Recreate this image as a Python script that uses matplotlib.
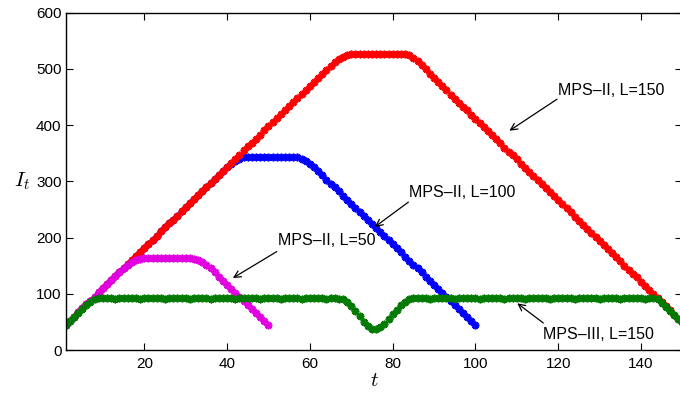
import numpy as np
import matplotlib
matplotlib.use("Agg")
import matplotlib.pyplot as plt

plt.rcParams["font.family"] = ["Liberation Sans", "DejaVu Sans"]
plt.rcParams["mathtext.fontset"] = "cm"

# MPS-II, L=150
red_vals = [
    45, 52, 59, 67, 74, 81, 88, 95, 103, 110,
    117, 124, 131, 139, 146, 153, 160, 167, 175, 182,
    189, 196, 203, 211, 218, 225, 232, 239, 247, 254,
    261, 268, 275, 283, 290, 297, 304, 311, 319, 326,
    333, 340, 347, 355, 362, 369, 376, 383, 391, 398,
    405, 412, 419, 427, 434, 441, 448, 455, 463, 470,
    477, 484, 491, 498, 505, 512, 517, 521, 524, 526,
    527, 527, 527, 527, 527, 527, 527, 527, 527, 527,
    527, 527, 526, 524, 520, 514, 507, 499, 491, 483,
    476, 469, 462, 454, 447, 440, 433, 426, 418, 411,
    404, 397, 389, 382, 375, 368, 360, 353, 346, 339,
    331, 324, 317, 310, 302, 295, 288, 281, 273, 266,
    259, 252, 245, 237, 230, 223, 216, 208, 201, 194,
    187, 179, 172, 165, 158, 150, 143, 136, 129, 121,
    114, 107, 100, 92, 85, 78, 71, 63, 56, 49,
]

# MPS-II, L=100
blue_vals = [
    45, 52, 59, 67, 74, 81, 88, 95, 103, 110,
    117, 124, 131, 139, 146, 153, 160, 167, 175, 182,
    189, 196, 203, 211, 218, 225, 232, 239, 247, 254,
    261, 268, 275, 283, 290, 297, 304, 311, 318, 325,
    331, 336, 340, 343, 344, 344, 344, 344, 344, 344,
    344, 344, 344, 344, 344, 344, 343, 340, 336, 331,
    325, 318, 311, 303, 296, 289, 282, 274, 267, 260,
    253, 246, 238, 231, 224, 217, 210, 202, 195, 188,
    181, 174, 166, 159, 152, 145, 138, 130, 123, 116,
    109, 102, 94, 87, 80, 73, 66, 58, 51, 44,
]

# MPS-II, L=50
mag_vals = [
    45, 52, 59, 67, 74, 81, 88, 95, 103, 110,
    117, 124, 131, 139, 146, 152, 157, 160, 162, 163,
    163, 163, 163, 163, 163, 163, 163, 163, 163, 163,
    163, 162, 160, 156, 151, 145, 138, 130, 123, 116,
    109, 102, 94, 87, 80, 73, 66, 58, 51, 44,
]

# MPS-III, L=150
green_vals = [
    45, 52, 59, 66, 73, 80, 86, 90, 92, 92,
    93, 92, 91, 92, 92, 93, 92, 92, 91, 92,
    93, 92, 92, 92, 91, 92, 93, 93, 92, 92,
    91, 92, 92, 93, 92, 91, 92, 92, 93, 92,
    92, 91, 92, 93, 92, 92, 92, 91, 92, 93,
    92, 92, 91, 92, 92, 93, 92, 91, 92, 92,
    93, 92, 92, 91, 92, 92, 91, 90, 86, 79,
    70, 60, 50, 42, 38, 38, 41, 47, 55, 64,
    72, 80, 86, 90, 92, 92, 93, 92, 91, 92,
    92, 93, 92, 92, 91, 92, 92, 93, 92, 92,
    91, 92, 93, 92, 92, 92, 91, 92, 92, 93,
    92, 91, 92, 92, 93, 92, 92, 91, 92, 92,
    93, 92, 92, 91, 92, 93, 92, 92, 92, 91,
    92, 92, 93, 92, 91, 92, 92, 93, 92, 92,
    91, 92, 92, 90, 84, 77, 70, 63, 56, 49,
]

x_ticks = [20, 40, 60, 80, 100, 120, 140]
y_ticks = [0, 100, 200, 300, 400, 500, 600]

fig = plt.figure(figsize=(6.8, 3.99), dpi=100)
ax = fig.add_axes([0.0965, 0.1228, 0.9071, 0.8456])

star = (8, 2, 0)
series = [
    (blue_vals, "#0000ff"),
    (red_vals, "#ff0000"),
    (mag_vals, "#e000e0"),
    (green_vals, "#007a00"),
]
for vals, col in series:
    t = np.arange(1, len(vals) + 1)
    ax.plot(t, vals, linestyle="none", marker=star, ms=5.5, mew=1.3,
            color=col, mec=col)

ax.set_xlim(1, 150)
ax.set_ylim(0, 600)
ax.set_xticks(x_ticks)
ax.set_yticks(y_ticks)
ax.tick_params(direction="in", length=5, width=0.8, top=True, right=True,
               labelsize=11)
ax.tick_params(axis="x", pad=5)
ax.tick_params(axis="y", pad=3)
for s in ax.spines.values():
    s.set_linewidth(1.0)

ax.set_xlabel("$t$", fontsize=15, labelpad=0)
ax.set_ylabel("$I_t$", fontsize=15, rotation=0, labelpad=10, va="center")

# labels with arrows
notes = [
    ("MPS\u2013II, L=150", (119.9, 462), (119.7, 446), (108.2, 390)),
    ("MPS\u2013II, L=100", (84.0, 280), (83.8, 263), (75.7, 219)),
    ("MPS\u2013II, L=50", (52.4, 194), (52.0, 175), (41.4, 128)),
    ("MPS\u2013III, L=150", (116.4, 28), (116.4, 48), (110.1, 83)),
]
for txt, tpos, start, tip in notes:
    ax.text(tpos[0], tpos[1], txt, fontsize=11.5, ha="left", va="center")
    ax.annotate("", xy=tip, xytext=start,
                arrowprops=dict(arrowstyle="->", color="black", lw=0.9,
                                shrinkA=0, shrinkB=0,
                                mutation_scale=12))

fig.savefig("out.png", dpi=100)
